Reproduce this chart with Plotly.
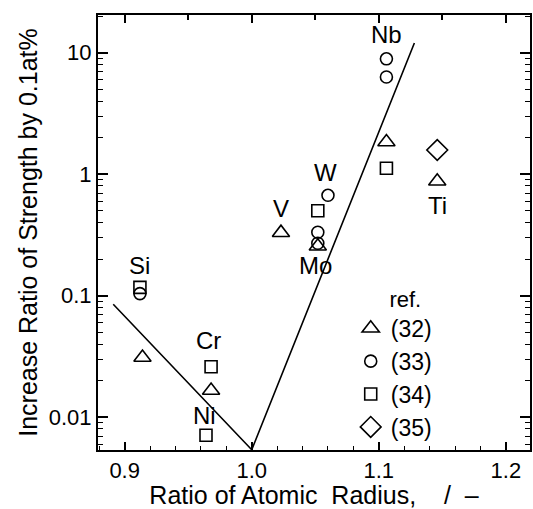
import math
import plotly.graph_objects as go

# ref (32): triangles
ref32_x = [0.914, 0.968, 1.023, 1.052, 1.106, 1.146]
ref32_y = [0.031, 0.0166, 0.33, 0.255, 1.84, 0.875]
# ref (33): circles
ref33_x = [0.912, 1.060, 1.052, 1.052, 1.106, 1.106]
ref33_y = [0.104, 0.67, 0.333, 0.27, 8.9, 6.3]
# ref (34): squares
ref34_x = [0.912, 0.968, 0.964, 1.052, 1.106]
ref34_y = [0.117, 0.026, 0.0071, 0.50, 1.12]
# ref (35): diamond
ref35_x = [1.146]
ref35_y = [1.58]
# V-shaped guide line
line_x = [0.891, 1.0, 1.128]
line_y = [0.085, 0.0054, 12.0]
# element labels
elem_names = ["Nb", "W", "V", "Mo", "Ti", "Si", "Cr", "Ni"]
elem_x = [1.106, 1.058, 1.023, 1.050, 1.146, 0.912, 0.966, 0.963]
elem_y = [14.0, 1.04, 0.525, 0.178, 0.555, 0.178, 0.043, 0.0103]

FONT = "Liberation Sans, Arial, Helvetica, sans-serif"
BLACK = "black"

fig = go.Figure()
fig.add_trace(go.Scatter(x=line_x, y=line_y, mode="lines",
                         line=dict(color=BLACK, width=1.6), showlegend=False,
                         hoverinfo="skip"))

series = [
    ("(32)", ref32_x, ref32_y, "triangle-up-open", 15),
    ("(33)", ref33_x, ref33_y, "circle-open", 12),
    ("(34)", ref34_x, ref34_y, "square-open", 12),
    ("(35)", ref35_x, ref35_y, "diamond-open", 16),
]
for name, xs, ys, sym, sz in series:
    fig.add_trace(go.Scatter(x=xs, y=ys, mode="markers", name=name,
                             marker=dict(symbol=sym, size=sz, color=BLACK,
                                         line=dict(color=BLACK, width=1.6))))

for n, xx, yy in zip(elem_names, elem_x, elem_y):
    fig.add_annotation(x=xx, y=math.log10(yy), yref="y", xref="x", text=n,
                       showarrow=False,
                       font=dict(family=FONT, size=24, color=BLACK))

fig.update_layout(
    width=533, height=509,
    margin=dict(l=98, r=1, t=15, b=59),
    paper_bgcolor="white", plot_bgcolor="white",
    font=dict(family=FONT, color=BLACK, size=22),
    legend=dict(x=0.585, y=0.395, xanchor="left", yanchor="top",
                bgcolor="rgba(0,0,0,0)", font=dict(size=23),
                title=dict(text="      ref.", font=dict(size=22), side="top"),
                itemwidth=30, tracegroupgap=0),
    xaxis=dict(range=[0.879, 1.219], showgrid=False, zeroline=False,
               showline=True, linecolor=BLACK, linewidth=2, mirror=True,
               ticks="inside", ticklen=8, tickwidth=1.5, tickcolor=BLACK,
               tickvals=[0.9, 1.0, 1.1, 1.2], ticktext=["0.9", "1.0", "1.1", "1.2"],
               minor=dict(ticks="inside", ticklen=4, tickwidth=1.2, dtick=0.02,
                          tick0=0.9, tickcolor=BLACK, showgrid=False),
               tickfont=dict(size=22),
               title=dict(text="Ratio of Atomic  Radius,    /  \u2013", standoff=6,
                          font=dict(size=25))),
    xaxis2=dict(range=[0.879, 1.219], overlaying="x", side="top", showgrid=False,
                zeroline=False, showticklabels=False, ticks="inside", ticklen=8,
                tickwidth=1.5, tickcolor=BLACK, dtick=0.1, tick0=0.9,
                minor=dict(ticks="inside", ticklen=5, dtick=0.05, tick0=0.9,
                           tickcolor=BLACK, showgrid=False)),
    yaxis=dict(type="log", range=[-2.27, 1.31], showgrid=False, zeroline=False,
               showline=True, linecolor=BLACK, linewidth=2, mirror="ticks",
               ticks="inside", ticklen=10, tickwidth=1.5, tickcolor=BLACK,
               tickvals=[0.01, 0.1, 1, 10], ticktext=["0.01", "0.1", "1", "10"],
               minor=dict(ticks="inside", ticklen=5, tickwidth=1.2, dtick="D1",
                          tickcolor=BLACK, showgrid=False),
               tickfont=dict(size=22),
               title=dict(text="Increase Ratio of Strength by 0.1at%", standoff=4,
                          font=dict(size=25))),
)
# invisible trace to activate the top axis
fig.add_trace(go.Scatter(x=[1.0], y=[1.0], xaxis="x2", mode="markers",
                         marker=dict(opacity=0), showlegend=False, hoverinfo="skip"))

fig.write_html("out.html")
